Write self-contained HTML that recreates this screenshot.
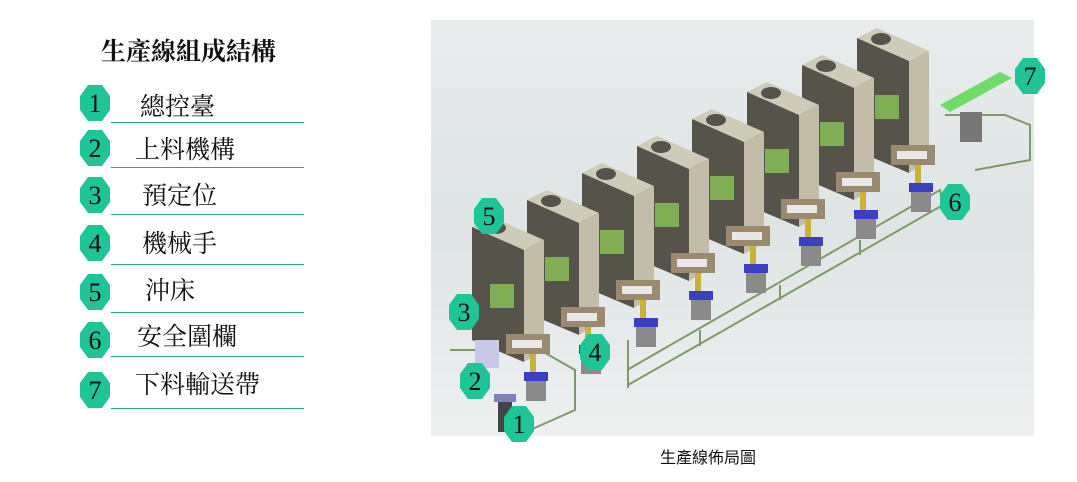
<!DOCTYPE html>
<html><head><meta charset="utf-8"><style>
body{margin:0;width:1077px;height:482px;background:#fff;position:relative;overflow:hidden;font-family:"Liberation Serif","Noto Serif CJK SC",serif}
.t{position:absolute;left:101px;top:32px;font-size:25px;font-weight:bold;color:#111}
.it{position:absolute;font-size:25px;color:#111}
.ln{position:absolute;left:111px;width:193px;height:1px;background:#2aa58a}
.cap{position:absolute;left:660px;top:444px;font-size:16px;font-family:"Liberation Sans","Noto Sans CJK TC",sans-serif;color:#111}
</style></head><body>
<div class="t">生產線組成結構</div>
<svg width="1077" height="482" style="position:absolute;left:0;top:0">
<defs>
<polygon id="hx" points="-7,-18 7,-18 15,-7 15,7 7,18 -7,18 -15,7 -15,-7" fill="#1fc596"/>
<linearGradient id="bg" x1="0" y1="0" x2="0" y2="1"><stop offset="0" stop-color="#e8eced"/><stop offset="0.5" stop-color="#dfe4e5"/><stop offset="1" stop-color="#eef0f0"/></linearGradient>
<g id="press">
<polygon points="0,5 20,-5 72,18 52,28" fill="#cfcbb9"/>
<ellipse cx="24" cy="6" rx="10" ry="6" fill="#55534a"/>
<polygon points="0,5 52,28 52,140 0,118" fill="#55534a"/>
<polygon points="52,28 72,18 72,128 52,140" fill="#c2bca8"/>
<rect x="18" y="62" width="24" height="24" fill="#7fae55"/>
<rect x="34" y="112" width="44" height="20" fill="#9a8a70"/>
<rect x="40" y="118" width="30" height="8" fill="#e8e8e8"/>
<rect x="58" y="132" width="6" height="22" fill="#c9b23a"/>
<rect x="52" y="150" width="24" height="9" fill="#3b40c0"/>
<rect x="54" y="159" width="20" height="20" fill="#8a8a8a"/>
</g>
</defs>
<rect x="431" y="20" width="603" height="416" fill="url(#bg)"/>
<g stroke="#7e9a6a" stroke-width="2" fill="none">
<polyline points="627,370 940,190 943,205 628,385"/>
<line x1="628" y1="340" x2="628" y2="388"/>
<polyline points="450,350 540,350 575,370 575,410 530,430"/>
<polyline points="945,115 1005,115 1030,125 1030,160 975,170"/>
</g>
<use href="#press" x="857" y="33"/>
<use href="#press" x="802" y="60"/>
<use href="#press" x="747" y="87"/>
<use href="#press" x="692" y="114"/>
<use href="#press" x="637" y="141"/>
<use href="#press" x="582" y="168"/>
<use href="#press" x="527" y="195"/>
<use href="#press" x="472" y="222"/>
<g stroke="#7e9a6a" stroke-width="2" fill="none">
<line x1="700" y1="330" x2="700" y2="346"/><line x1="780" y1="285" x2="780" y2="300"/><line x1="860" y1="240" x2="860" y2="255"/>
</g>
<polygon points="940,105 1000,72 1012,78 950,112" fill="#6fdc6a"/>
<rect x="960" y="112" width="22" height="30" fill="#777"/>
<rect x="475" y="340" width="24" height="28" fill="#c8c8e8"/>
<rect x="498" y="398" width="14" height="34" fill="#444"/>
<rect x="494" y="394" width="22" height="8" fill="#8080c0"/>
<g font-family="Liberation Serif" font-size="26" fill="#111" text-anchor="middle">
<g transform="translate(95,103)"><use href="#hx"/><text y="9">1</text></g>
<g transform="translate(95,148)"><use href="#hx"/><text y="9">2</text></g>
<g transform="translate(95,195)"><use href="#hx"/><text y="9">3</text></g>
<g transform="translate(95,243)"><use href="#hx"/><text y="9">4</text></g>
<g transform="translate(95,292)"><use href="#hx"/><text y="9">5</text></g>
<g transform="translate(95,340)"><use href="#hx"/><text y="9">6</text></g>
<g transform="translate(95,390)"><use href="#hx"/><text y="9">7</text></g>
<g transform="translate(519,424)"><use href="#hx"/><text y="9">1</text></g>
<g transform="translate(475,381)"><use href="#hx"/><text y="9">2</text></g>
<g transform="translate(464,312)"><use href="#hx"/><text y="9">3</text></g>
<g transform="translate(595,352)"><use href="#hx"/><text y="9">4</text></g>
<g transform="translate(489,216)"><use href="#hx"/><text y="9">5</text></g>
<g transform="translate(955,202)"><use href="#hx"/><text y="9">6</text></g>
<g transform="translate(1030,76)"><use href="#hx"/><text y="9">7</text></g>
</g>
</svg>
<div class="it" style="left:140px;top:87px">總控臺</div><div class="ln" style="top:122px"></div>
<div class="it" style="left:135px;top:130px">上料機構</div><div class="ln" style="top:167px"></div>
<div class="it" style="left:142px;top:176px">預定位</div><div class="ln" style="top:214px"></div>
<div class="it" style="left:142px;top:224px">機械手</div><div class="ln" style="top:264px"></div>
<div class="it" style="left:145px;top:271px">沖床</div><div class="ln" style="top:312px"></div>
<div class="it" style="left:137px;top:317px">安全圍欄</div><div class="ln" style="top:356px"></div>
<div class="it" style="left:135px;top:365px">下料輸送帶</div><div class="ln" style="top:408px"></div>
<div class="cap">生產線佈局圖</div>
</body></html>
